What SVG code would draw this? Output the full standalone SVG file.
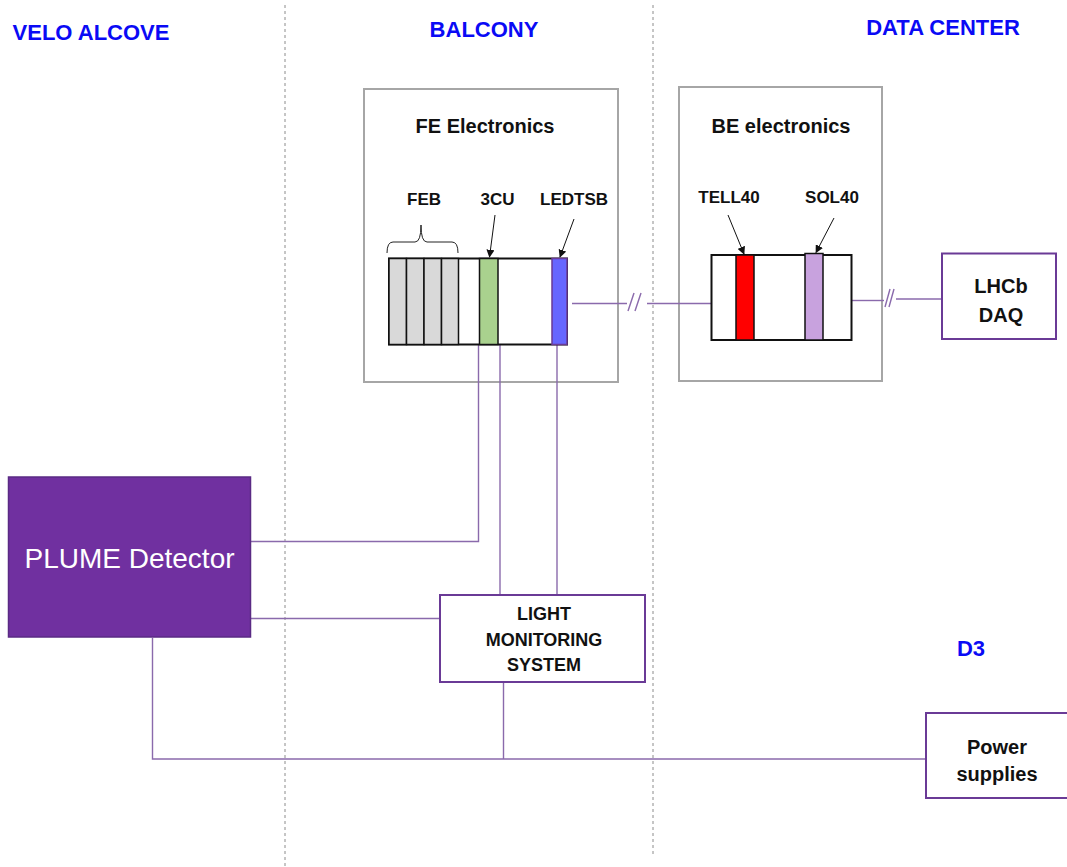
<svg xmlns="http://www.w3.org/2000/svg" width="1067" height="867" viewBox="0 0 1067 867">
  <style>
    .zone { font-family: "Liberation Sans", Arial, sans-serif; font-weight: bold; font-size: 22px; fill: #0a0af5; text-anchor: middle; }
    .lbl { font-family: "Liberation Sans", Arial, sans-serif; font-weight: bold; fill: #111; text-anchor: middle; }
    .divider { stroke: #8c8c8c; stroke-width: 1; stroke-dasharray: 3 3; fill: none; }
    .frame { fill: none; stroke: #a6a6a6; stroke-width: 2; }
    .crate { fill: #fff; stroke: #111; stroke-width: 2; }
    .slot { stroke: #111; stroke-width: 1.5; }
    .box { fill: #fff; stroke: #6a3a96; stroke-width: 2; }
    .wire { stroke: #8a6aac; stroke-width: 1.4; fill: none; }
    .ptr { stroke: #111; stroke-width: 1; fill: none; marker-end: url(#head); }
  </style>
  <defs>
    <marker id="head" viewBox="0 0 10 10" refX="9" refY="5" markerWidth="8" markerHeight="8" markerUnits="userSpaceOnUse" orient="auto">
      <path d="M0,0 L10,5 L0,10 z" fill="#111"/>
    </marker>
  </defs>

  <rect width="1067" height="867" fill="#fff"/>

  <!-- area dividers and area names -->
  <g id="areas">
    <line class="divider" x1="285" y1="5" x2="285" y2="867"/>
    <line class="divider" x1="653" y1="5" x2="653" y2="856"/>
    <text class="zone" x="91" y="40">VELO ALCOVE</text>
    <text class="zone" x="484" y="37">BALCONY</text>
    <text class="zone" x="943" y="35">DATA CENTER</text>
    <text class="zone" x="971" y="656">D3</text>
  </g>

  <!-- equipment frames -->
  <g id="fe-frame">
    <rect class="frame" x="364" y="89" width="254" height="293"/>
    <text class="lbl" x="485" y="133" font-size="20">FE Electronics</text>
  </g>
  <g id="be-frame">
    <rect class="frame" x="679" y="87" width="203" height="294"/>
    <text class="lbl" x="781" y="133" font-size="20">BE electronics</text>
  </g>

  <!-- connectors -->
  <g id="connectors">
    <!-- FE crate to BE crate (broken line) -->
    <polyline class="wire" points="572,303.5 627,303.5"/>
    <line class="wire" x1="628" y1="311" x2="634" y2="293"/>
    <line class="wire" x1="635" y1="311" x2="641" y2="293"/>
    <polyline class="wire" points="647,303.5 711,303.5"/>
    <!-- BE crate to LHCb DAQ (broken line) -->
    <polyline class="wire" points="852,300.5 884,300.5"/>
    <line class="wire" x1="885" y1="307" x2="890" y2="289"/>
    <line class="wire" x1="889" y1="307" x2="894" y2="289"/>
    <polyline class="wire" points="896,299 942,299"/>
    <!-- FEB/3CU readout to PLUME -->
    <polyline class="wire" points="478.5,344 478.5,541.5 251,541.5"/>
    <!-- 3CU and LEDTSB to light monitoring -->
    <polyline class="wire" points="500,344 500,595"/>
    <polyline class="wire" points="557,344 557,595"/>
    <!-- PLUME to light monitoring -->
    <polyline class="wire" points="251,618.5 440,618.5"/>
    <!-- power distribution -->
    <polyline class="wire" points="152.5,638 152.5,759 926,759"/>
    <polyline class="wire" points="503.5,682 503.5,759"/>
  </g>

  <!-- front-end crate -->
  <g id="fe-electronics">
    <rect class="crate" x="389" y="258.5" width="178" height="86"/>
    <g id="feb">
      <rect class="slot" x="389" y="258.5" width="17.5" height="86" fill="#d9d9d9"/>
      <rect class="slot" x="406.5" y="258.5" width="17.5" height="86" fill="#d9d9d9"/>
      <rect class="slot" x="424" y="258.5" width="17.5" height="86" fill="#d9d9d9"/>
      <rect class="slot" x="441.5" y="258.5" width="17" height="86" fill="#d9d9d9"/>
      <path d="M387,253 Q387,242 393,242 H415 Q421,242 421,225 Q421,242 427,242 H452 Q458,242 458,253" fill="none" stroke="#222" stroke-width="1"/>
      <text class="lbl" x="424" y="205" font-size="17">FEB</text>
    </g>
    <g id="cu3">
      <rect class="slot" x="479.5" y="258.5" width="18.5" height="86" fill="#a9d18e"/>
      <text class="lbl" x="497.5" y="205" font-size="17">3CU</text>
      <line class="ptr" x1="495" y1="215" x2="489.5" y2="257"/>
    </g>
    <g id="ledtsb">
      <rect x="552" y="258.5" width="15" height="86" fill="#6666ff" stroke="#6a3a96" stroke-width="1.5"/>
      <text class="lbl" x="574" y="205" font-size="17">LEDTSB</text>
      <line class="ptr" x1="574" y1="219" x2="560" y2="257"/>
    </g>
  </g>

  <!-- back-end crate -->
  <g id="be-electronics">
    <rect class="crate" x="711.5" y="255" width="140" height="85"/>
    <g id="tell40">
      <rect class="slot" x="736" y="255" width="18" height="85" fill="#ff0000"/>
      <text class="lbl" x="729" y="203" font-size="17">TELL40</text>
      <line class="ptr" x1="728" y1="215" x2="744" y2="254"/>
    </g>
    <g id="sol40">
      <rect class="slot" x="805" y="253.5" width="18" height="86.5" fill="#c8a2de"/>
      <text class="lbl" x="832" y="203" font-size="17">SOL40</text>
      <line class="ptr" x1="834" y1="218" x2="816" y2="252.5"/>
    </g>
  </g>

  <!-- LHCb DAQ -->
  <g id="lhcb-daq">
    <rect class="box" x="942" y="253.5" width="114" height="85.5"/>
    <text class="lbl" x="1001" y="293" font-size="20">LHCb</text>
    <text class="lbl" x="1001" y="322" font-size="20">DAQ</text>
  </g>

  <!-- PLUME detector -->
  <g id="plume-detector">
    <rect x="8.5" y="477" width="242" height="160" fill="#7030a0" stroke="#5a2a84" stroke-width="1.5"/>
    <text x="129.5" y="568" font-family="Liberation Sans, Arial, sans-serif" font-size="28" fill="#fff" text-anchor="middle">PLUME Detector</text>
  </g>

  <!-- light monitoring system -->
  <g id="light-monitoring">
    <rect class="box" x="440" y="595" width="205" height="87"/>
    <text class="lbl" x="544" y="620" font-size="18">LIGHT</text>
    <text class="lbl" x="544" y="646" font-size="18">MONITORING</text>
    <text class="lbl" x="544" y="671" font-size="18">SYSTEM</text>
  </g>

  <!-- power supplies -->
  <g id="power-supplies">
    <rect class="box" x="926" y="713" width="145" height="85"/>
    <text class="lbl" x="997" y="754" font-size="20">Power</text>
    <text class="lbl" x="997" y="781" font-size="20">supplies</text>
  </g>
</svg>
